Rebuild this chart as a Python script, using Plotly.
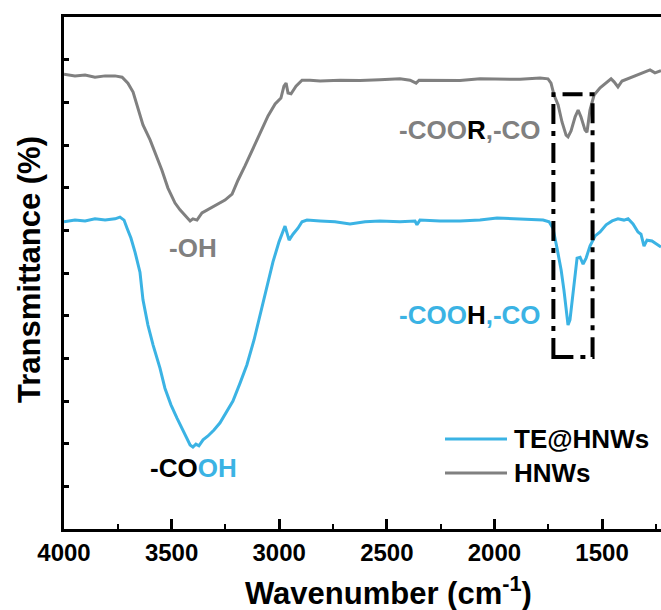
import plotly.graph_objects as go

# HNWs (grey) spectrum: wavenumber (cm-1) and transmittance (a.u.)
hnws_wn = [4000, 3949, 3902, 3856, 3809, 3763, 3730, 3703, 3679, 3656, 3633, 3600, 3577, 3545,
           3517, 3484, 3461, 3433, 3414, 3401, 3382, 3359, 3322, 3284, 3252, 3219, 3191, 3159,
           3126, 3089, 3052, 3019, 2992, 2978, 2968, 2959, 2945, 2922, 2894, 2857, 2810, 2717,
           2624, 2532, 2439, 2392, 2364, 2350, 2253, 2160, 2067, 1974, 1881, 1788, 1751, 1737,
           1723, 1704, 1686, 1667, 1658, 1644, 1625, 1611, 1598, 1579, 1570, 1556, 1537, 1509,
           1481, 1458, 1444, 1426, 1407, 1370, 1337, 1300, 1277, 1254, 1226]
hnws_t = [10.66, 10.62, 10.64, 10.59, 10.62, 10.62, 10.59, 10.45, 10.24, 9.87, 9.47, 9.12, 8.84, 8.41,
          7.99, 7.64, 7.48, 7.31, 7.22, 7.27, 7.24, 7.41, 7.52, 7.62, 7.71, 7.85, 8.18, 8.51,
          8.88, 9.30, 9.68, 9.96, 10.10, 10.38, 10.45, 10.22, 10.20, 10.38, 10.52, 10.52, 10.50, 10.52,
          10.51, 10.53, 10.55, 10.52, 10.45, 10.52, 10.52, 10.51, 10.55, 10.55, 10.54, 10.57, 10.55, 10.45,
          10.17, 9.94, 9.54, 9.23, 9.19, 9.33, 9.66, 9.82, 9.66, 9.35, 9.30, 9.82, 10.17, 10.34,
          10.45, 10.55, 10.48, 10.36, 10.50, 10.57, 10.64, 10.71, 10.76, 10.69, 10.74]

# TE@HNWs (blue) spectrum
te_wn = [4000, 3949, 3902, 3856, 3809, 3763, 3740, 3721, 3707, 3689, 3670, 3647, 3633, 3610,
         3586, 3554, 3531, 3503, 3475, 3452, 3428, 3414, 3401, 3387, 3373, 3354, 3331, 3303,
         3275, 3247, 3215, 3182, 3150, 3117, 3089, 3061, 3029, 3001, 2982, 2973, 2964, 2954,
         2936, 2913, 2894, 2871, 2810, 2741, 2671, 2601, 2532, 2439, 2369, 2360, 2346, 2253,
         2160, 2067, 1988, 1904, 1835, 1774, 1746, 1728, 1709, 1690, 1677, 1667, 1658, 1649,
         1639, 1625, 1616, 1602, 1588, 1574, 1556, 1532, 1509, 1481, 1453, 1426, 1398, 1379,
         1356, 1333, 1319, 1305, 1291, 1268, 1249, 1226]
te_t = [7.20, 7.24, 7.22, 7.27, 7.24, 7.27, 7.31, 7.24, 7.05, 6.82, 6.49, 6.02, 5.37, 4.78,
        4.31, 3.77, 3.30, 2.91, 2.60, 2.37, 2.13, 1.97, 1.92, 1.99, 1.95, 2.09, 2.18, 2.32,
        2.49, 2.72, 3.00, 3.42, 3.85, 4.43, 5.02, 5.60, 6.26, 6.73, 6.96, 7.10, 6.94, 6.77,
        6.91, 7.05, 7.20, 7.24, 7.22, 7.20, 7.15, 7.20, 7.22, 7.20, 7.22, 7.13, 7.24, 7.22,
        7.22, 7.24, 7.29, 7.27, 7.27, 7.24, 7.20, 7.05, 6.58, 6.07, 5.60, 5.13, 4.78, 4.90,
        5.37, 6.07, 6.35, 6.37, 6.21, 6.35, 6.63, 6.87, 6.96, 7.13, 7.22, 7.27, 7.24, 7.27,
        7.15, 6.96, 6.91, 6.63, 6.77, 6.75, 6.68, 6.61]

series_names = ["TE@HNWs", "HNWs"]
x_ticks = [4000, 3500, 3000, 2500, 2000, 1500]

# highlighted region (box)
box_wn = [1726, 1544]
box_t = [4.03, 10.19]

BLUE = "#3BB3E4"
GREY = "#808080"
FONT = "Liberation Sans, Arial, sans-serif"

fig = go.Figure()
fig.add_trace(go.Scatter(x=te_wn, y=te_t, mode="lines", name=series_names[0],
                         line=dict(color=BLUE, width=3), showlegend=False))
fig.add_trace(go.Scatter(x=hnws_wn, y=hnws_t, mode="lines", name=series_names[1],
                         line=dict(color=GREY, width=3), showlegend=False))

fig.add_shape(type="rect", xref="x", yref="y", x0=box_wn[0], x1=box_wn[1],
              y0=box_t[0], y1=box_t[1],
              line=dict(color="black", width=4, dash="20px,7px,5px,7px"))

W, H = 661, 610
L, T, R, B = 64, 17, 0, 81
pw, ph = W - L - R, H - T - B


def px(xp):
    return (xp - L) / pw


def py(yp):
    return (H - B - yp) / ph


ann = []
ann.append(dict(text="<b>-OH</b>", x=3400, y=6.59, xref="x", yref="y", showarrow=False,
                font=dict(size=26, color=GREY, family=FONT)))
ann.append(dict(text="<b>-CO<span style='color:%s'>OH</span></b>" % BLUE, x=3400, y=1.43,
                xref="x", yref="y", showarrow=False,
                font=dict(size=26, color="black", family=FONT)))
ann.append(dict(text="<b>-COO<span style='color:black'>R</span>,-CO</b>", x=1772, y=9.35,
                xref="x", yref="y", xanchor="right", showarrow=False,
                font=dict(size=26, color=GREY, family=FONT)))
ann.append(dict(text="<b>-COO<span style='color:black'>H</span>,-CO</b>", x=1772, y=5.02,
                xref="x", yref="y", xanchor="right", showarrow=False,
                font=dict(size=26, color=BLUE, family=FONT)))
# legend (manual)
for name, col, yy in [(series_names[0], BLUE, 439), (series_names[1], GREY, 473)]:
    fig.add_shape(type="line", xref="paper", yref="paper", x0=px(445), x1=px(507),
                  y0=py(yy), y1=py(yy), line=dict(color=col, width=3))
    ann.append(dict(text="<b>%s</b>" % name, x=px(512), y=py(yy), xref="paper", yref="paper",
                    xanchor="left", yanchor="middle", showarrow=False,
                    font=dict(size=26, color="black", family=FONT)))
# axis titles
ann.append(dict(text="<b>Wavenumber (cm<sup>-1</sup>)</b>", x=px(388), y=py(591), xref="paper",
                yref="paper", xanchor="center", yanchor="middle", showarrow=False,
                font=dict(size=31, color="black", family=FONT)))
ann.append(dict(text="<b>Transmittance (%)</b>", x=px(29), y=py(270), xref="paper",
                yref="paper", xanchor="center", yanchor="middle", textangle=-90,
                showarrow=False, font=dict(size=31, color="black", family=FONT)))

fig.update_layout(
    width=W, height=H, margin=dict(l=L, r=R, t=T, b=B),
    plot_bgcolor="white", paper_bgcolor="white",
    annotations=ann, showlegend=False,
    font=dict(family=FONT, color="black"),
)
fig.update_xaxes(range=[4000, 1226], tickvals=x_ticks, ticks="inside", ticklen=10, tickwidth=3,
                 tickcolor="black", showline=True, linecolor="black", linewidth=3, mirror=True,
                 showgrid=False, zeroline=False,
                 tickfont=dict(size=24, color="black", family=FONT, weight="bold"),
                 minor=dict(dtick=250, tick0=4000, ticks="inside", ticklen=5, tickwidth=2,
                            tickcolor="black", showgrid=False))
fig.update_yaxes(range=[0, 12], dtick=1, tick0=0, ticks="inside", ticklen=5, tickwidth=2.5,
                 tickcolor="black", showline=True, linecolor="black", linewidth=3,
                 showticklabels=False, showgrid=False, zeroline=False)

fig.write_html("out.html")
